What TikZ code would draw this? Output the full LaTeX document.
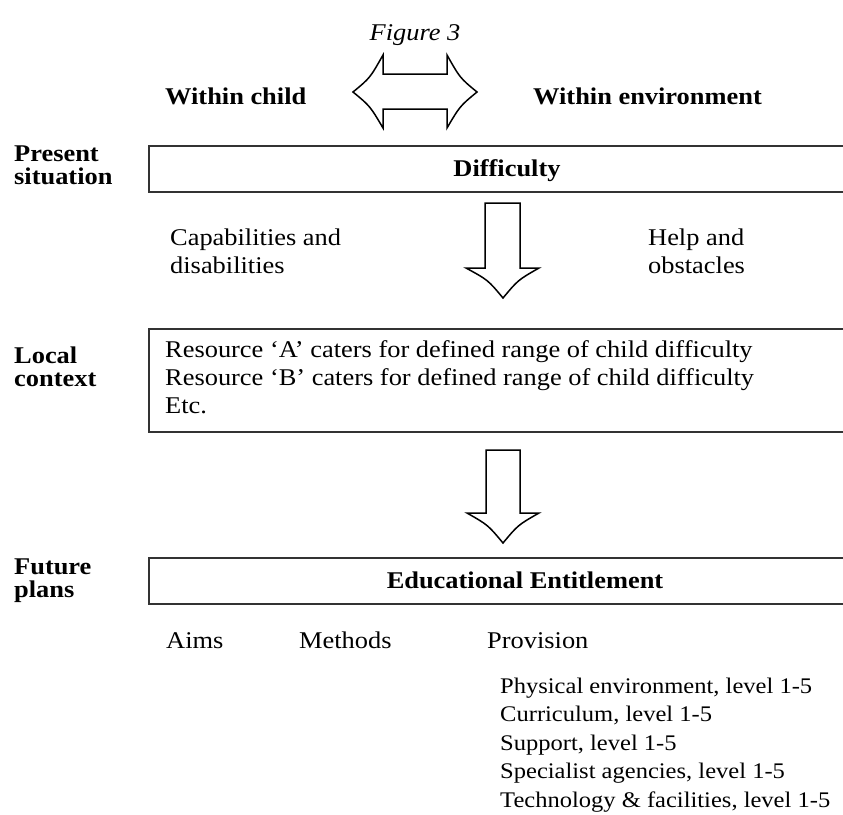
\documentclass[tikz,border=0pt]{standalone}
\usepackage{fontspec}
\setmainfont{Liberation Serif}[FakeStretch=1.1]
\begin{document}
\begin{tikzpicture}[x=1pt,y=-1pt,
  lbl/.style={font=\fontsize{24}{23}\selectfont\bfseries, inner sep=0, anchor=north west, align=left},
  head/.style={font=\fontsize{24}{26}\selectfont\bfseries, inner sep=0},
  txt/.style={font=\fontsize{24}{28}\selectfont, inner sep=0, align=left},
  frame/.style={draw=black!80, line width=1.6pt, inner sep=0, anchor=north west},
  blockarrow/.style={draw=black, line width=1.5pt, line join=miter, fill=white}]
\useasboundingbox (0,0) rectangle (843,814);

% title
\node[font=\fontsize{24}{26}\selectfont\itshape, inner sep=0, anchor=base] (fig) at (415,40) {Figure 3};

% top headings and double arrow
\node[head, anchor=base west] (child) at (165,104) {Within child};
\node[head, anchor=base west] (env) at (533,104) {Within environment};
\draw[blockarrow] (353,92) .. controls (370,78) .. (383,55) -- (383,74) -- (447,74) -- (447,55)
  .. controls (460,78) .. (477,92) .. controls (460,106) .. (447,128) -- (447,109) -- (383,109)
  -- (383,128) .. controls (370,106) .. (353,92) -- cycle;

% row labels
\node[lbl] (present) at (14,146) {Present\\situation};
\node[lbl] (local) at (14,346.6) {Local\\context};
\node[lbl] (future) at (14,559) {Future\\plans};

% box 1
\node[frame, minimum width=700pt, minimum height=46pt] (box1) at (148,145) {};
\node[head, anchor=base] (diff) at (507,176) {Difficulty};
\node[txt, anchor=north west] (cap) at (170,228.6) {Capabilities and\\disabilities};
\node[txt, anchor=north west] (help) at (648,228.6) {Help and\\obstacles};
\draw[blockarrow] (485,203) -- (520,203) -- (520,268) -- (539,268) .. controls (518,280) .. (503,298)
  .. controls (488,280) .. (466,268) -- (485,268) -- cycle;

% box 2
\node[frame, minimum width=700pt, minimum height=103pt] (box2) at (148,328) {};
\node[font=\fontsize{24}{28}\selectfont, inner sep=0, align=left, anchor=north west] (res) at (165,340.8)
  {Resource ‘A’ caters for defined range of child difficulty\\Resource ‘B’ caters for defined range of child difficulty\\Etc.};
\draw[blockarrow] (486,450) -- (520,450) -- (520,513) -- (539,513) .. controls (518,525) .. (503,543)
  .. controls (488,525) .. (467,513) -- (486,513) -- cycle;

% box 3
\node[frame, minimum width=700pt, minimum height=46pt] (box3) at (148,557) {};
\node[head, anchor=base] (edu) at (525,588) {Educational Entitlement};
\node[txt, anchor=base west] (aims) at (166,648) {Aims};
\node[txt, anchor=base west] (meth) at (299,648) {Methods};
\node[txt, anchor=base west] (prov) at (487,648) {Provision};
\node[font=\fontsize{22.3}{28.5}\selectfont, inner sep=0, align=left, anchor=north west] (list) at (500,677.8)
  {Physical environment, level 1-5\\Curriculum, level 1-5\\Support, level 1-5\\Specialist agencies, level 1-5\\Technology \& facilities, level 1-5};
\end{tikzpicture}
\end{document}
